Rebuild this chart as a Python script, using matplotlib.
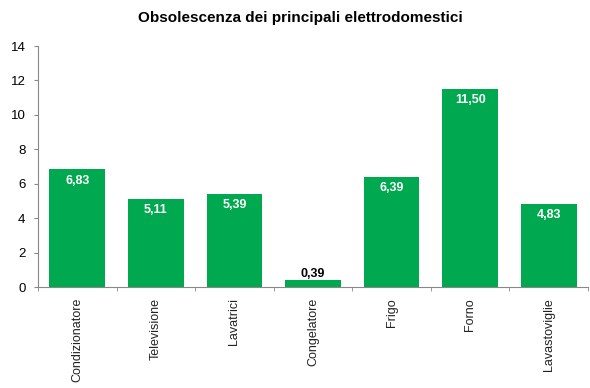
import matplotlib.pyplot as plt
import numpy as np

plt.rcParams['font.family'] = ['Liberation Sans', 'DejaVu Sans']

categories = ['Condizionatore', 'Televisione', 'Lavatrici', 'Congelatore',
              'Frigo', 'Forno', 'Lavastoviglie']
values = [6.83, 5.11, 5.39, 0.39, 6.39, 11.50, 4.83]
labels = ['6,83', '5,11', '5,39', '0,39', '6,39', '11,50', '4,83']

green = '#00a84f'
grey = '#888888'

fig = plt.figure(figsize=(5.9, 3.88), dpi=100)
ax = fig.add_axes([38 / 590, 1 - 287 / 388, 550 / 590, 241 / 388])

x = np.arange(len(categories))
ax.bar(x, values, width=0.71, color=green)

for xi, v, lab in zip(x, values, labels):
    if v > 1:
        ax.text(xi, v - 0.3, lab, ha='center', va='top', color='white',
                fontsize=9, fontweight='bold')
    else:
        ax.text(xi, v + 0.02, lab, ha='center', va='bottom', color='black',
                fontsize=9, fontweight='bold')

ax.set_xlim(-0.5, len(categories) - 0.5)
ax.set_ylim(0, 14)
ax.set_yticks(range(0, 15, 2))
ax.tick_params(axis='y', direction='out', length=3, color=grey, labelsize=9.5, pad=6)

# category names sit under the bars, tick marks on the boundaries
ax.set_xticks(x)
ax.set_xticklabels(categories, rotation=90, fontsize=9, color='#222222')
ax.tick_params(axis='x', length=0, pad=8)
ax.set_xticks(np.arange(-0.5, len(categories), 1.0), minor=True)
ax.tick_params(axis='x', which='minor', direction='out', length=3, color=grey)

for side in ['top', 'right']:
    ax.spines[side].set_visible(False)
for side in ['left', 'bottom']:
    ax.spines[side].set_color(grey)
    ax.spines[side].set_linewidth(0.8)

fig.text(300 / 590, 1 - 18 / 388, 'Obsolescenza dei principali elettrodomestici',
         ha='center', va='center', fontsize=11, fontweight='bold')

fig.savefig('out.png', dpi=100)
plt.close(fig)
